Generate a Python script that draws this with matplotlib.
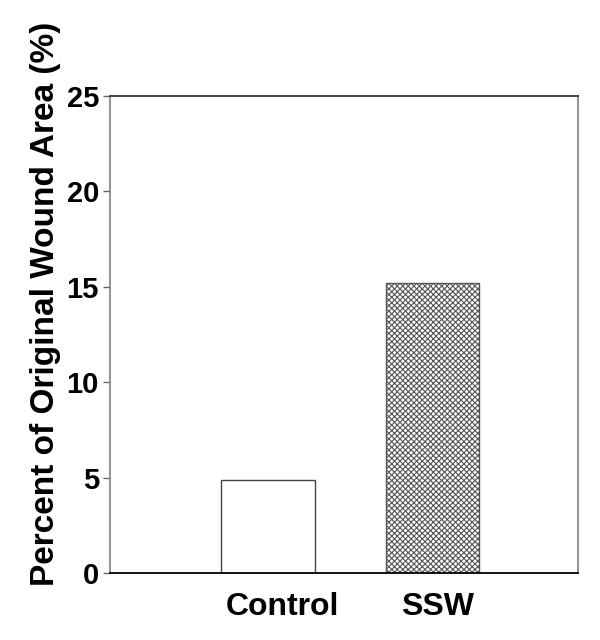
import matplotlib
matplotlib.use("Agg")
import matplotlib.pyplot as plt
from matplotlib.transforms import ScaledTranslation

categories = ["Control", "SSW"]
values = [4.85, 15.2]
yticks = [0, 5, 10, 15, 20, 25]

plt.rcParams['font.family'] = ['Liberation Sans', 'DejaVu Sans']
plt.rcParams['hatch.linewidth'] = 0.8
plt.rcParams['hatch.color'] = '#333333'

fig = plt.figure(figsize=(6, 6.4), dpi=100)
ax = fig.add_axes([110/600, 1-573/640, 468/600, 477/640])

pos = [1, 2]
ax.bar(pos[0], values[0], width=0.57, facecolor='white', edgecolor='#444444', linewidth=1)
ax.bar(pos[1], values[1], width=0.57, facecolor='white', edgecolor='#555555', linewidth=1, hatch='xxxxxx')

ax.set_xlim(0.037, 2.887)
ax.set_ylim(0, 25)
ax.set_yticks(yticks)
ax.set_yticklabels([str(t) for t in yticks], fontsize=21, fontweight='bold')
ax.set_xticks(pos)
ax.set_xticklabels(categories, fontsize=23, fontweight='bold')
ax.tick_params(axis='x', length=0, pad=14)
ax.tick_params(axis='y', length=5, width=1, color='#666666', pad=3)
for lab, dx in zip(ax.get_xticklabels(), [14, 5]):
    lab.set_transform(lab.get_transform() + ScaledTranslation(dx/100, 0, fig.dpi_scale_trans))

ax.set_ylabel("Percent of Original Wound Area (%)", fontsize=24, fontweight='bold')
ax.yaxis.set_label_coords(-0.105, (573-304)/477)

ax.spines['top'].set_color('#333333')
ax.spines['bottom'].set_color('#000000')
ax.spines['left'].set_color('#888888')
ax.spines['right'].set_color('#888888')
for s in ax.spines.values():
    s.set_linewidth(1.3)

fig.savefig("out.png", dpi=100)
